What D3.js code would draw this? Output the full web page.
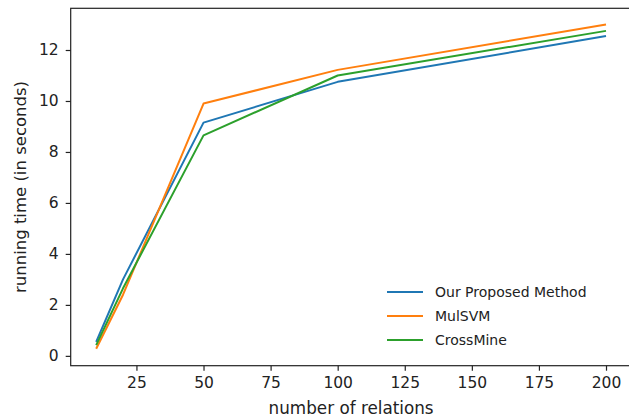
<!DOCTYPE html>
<html>
<head>
<meta charset="utf-8">
<script src="https://cdn.jsdelivr.net/npm/d3@7"></script>
<style>
  body { margin: 0; background: #fff; }
  svg { display: block; font-family: "DejaVu Sans", sans-serif; }
</style>
</head>
<body>
<svg id="chart" width="629" height="419"></svg>
<script>
const relations = [10, 20, 50, 100, 200];
const proposed = [0.55, 3.0, 9.15, 10.75, 12.55];
const mulsvm = [0.28, 2.4, 9.9, 11.22, 13.0];
const crossmine = [0.42, 2.65, 8.65, 11.0, 12.75];
const seriesNames = ["Our Proposed Method", "MulSVM", "CrossMine"];
const seriesColors = ["#1f77b4", "#ff7f0e", "#2ca02c"];
const xTicks = [25, 50, 75, 100, 125, 150, 175, 200];
const yTicks = [0, 2, 4, 6, 8, 10, 12];

const svg = d3.select("#chart");
const mLeft = 70.7, mRight = 631.5, mTop = 8.3, mBottom = 365.7;

const x = d3.scaleLinear().domain([0.5, 209.5]).range([mLeft, mRight]);
const y = d3.scaleLinear().domain([-0.386, 13.636]).range([mBottom, mTop]);

const series = [proposed, mulsvm, crossmine];
const line = d3.line().x((d, i) => x(relations[i])).y(d => y(d));

const plot = svg.append("g");
series.forEach((s, k) => {
  plot.append("path")
    .datum(s)
    .attr("fill", "none")
    .attr("stroke", seriesColors[k])
    .attr("stroke-width", 2)
    .attr("stroke-linejoin", "round")
    .attr("d", line);
});

// spines
const spineColor = "#222";
svg.append("rect")
  .attr("x", mLeft).attr("y", mTop)
  .attr("width", mRight - mLeft).attr("height", mBottom - mTop)
  .attr("fill", "none").attr("stroke", spineColor).attr("stroke-width", 1.2);

// x axis
const xAxis = d3.axisBottom(x).tickValues(xTicks).tickSize(5).tickPadding(6);
const gx = svg.append("g").attr("transform", `translate(0,${mBottom})`).call(xAxis);
gx.select(".domain").remove();
gx.selectAll("line").attr("stroke", spineColor).attr("stroke-width", 1.2);
gx.selectAll("text").attr("fill", "#222").attr("font-size", 15.5)
  .attr("font-family", "DejaVu Sans, sans-serif");

// y axis
const yAxis = d3.axisLeft(y).tickValues(yTicks).tickSize(5).tickPadding(7);
const gy = svg.append("g").attr("transform", `translate(${mLeft},0)`).call(yAxis);
gy.select(".domain").remove();
gy.selectAll("line").attr("stroke", spineColor).attr("stroke-width", 1.2);
gy.selectAll("text").attr("fill", "#222").attr("font-size", 15.5)
  .attr("font-family", "DejaVu Sans, sans-serif");

// axis labels
svg.append("text")
  .attr("x", (mLeft + mRight) / 2).attr("y", 414)
  .attr("text-anchor", "middle")
  .attr("font-size", 16.8).attr("fill", "#222")
  .text("number of relations");
svg.append("text")
  .attr("transform", `translate(26,${(mTop + mBottom) / 2}) rotate(-90)`)
  .attr("text-anchor", "middle")
  .attr("font-size", 16.5).attr("fill", "#222")
  .text("running time (in seconds)");

// legend
const legY = [292, 316, 340];
const leg = svg.append("g");
seriesNames.forEach((n, k) => {
  leg.append("line")
    .attr("x1", 387).attr("x2", 423)
    .attr("y1", legY[k]).attr("y2", legY[k])
    .attr("stroke", seriesColors[k]).attr("stroke-width", 2);
  leg.append("text")
    .attr("x", 435).attr("y", legY[k])
    .attr("dy", "0.35em")
    .attr("font-size", 14).attr("fill", "#222")
    .text(n);
});
</script>
</body>
</html>
